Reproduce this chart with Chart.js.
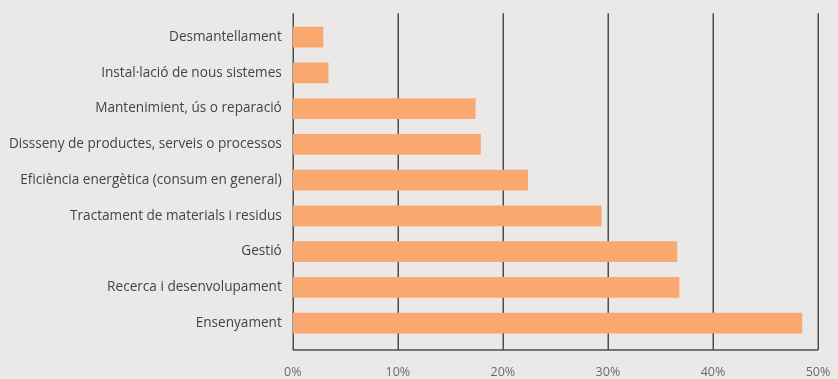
<!DOCTYPE html>
<html>
<head>
<meta charset="utf-8">
<script src="https://cdn.jsdelivr.net/npm/chart.js@4/dist/chart.umd.min.js"></script>
<style>
  html, body { margin: 0; padding: 0; background: #ebe9e7; }
  #wrap { width: 838px; height: 379px; position: relative; }
</style>
</head>
<body>
<div id="wrap"><canvas id="chart"></canvas></div>
<script>
const categories = [
  'Desmantellament',
  'Instal·lació de nous sistemes',
  'Mantenimient, ús o reparació',
  'Dissseny de productes, serveis o processos',
  'Eficiència energètica (consum en general)',
  'Tractament de materials i residus',
  'Gestió',
  'Recerca i desenvolupament',
  'Ensenyament'
];
const values = [2.9, 3.4, 17.4, 17.9, 22.4, 29.4, 36.6, 36.8, 48.5];
const tickValues = [0, 10, 20, 30, 40, 50];

// grid lines drawn a bit beyond the category band, like the original
const gridPlugin = {
  id: 'gridLines',
  beforeDatasetsDraw(chart) {
    const { ctx, chartArea, scales } = chart;
    const top = chartArea.top - 6;
    const bottom = chartArea.bottom + 9;
    ctx.save();
    ctx.strokeStyle = '#4d4d4d';
    ctx.lineWidth = 1.5;
    tickValues.forEach(v => {
      const x = Math.round(scales.x.getPixelForValue(v)) + 0.25;
      ctx.beginPath();
      ctx.moveTo(x, top);
      ctx.lineTo(x, bottom);
      ctx.stroke();
    });
    ctx.beginPath();
    ctx.moveTo(scales.x.getPixelForValue(0), bottom);
    ctx.lineTo(scales.x.getPixelForValue(50), bottom);
    ctx.stroke();
    ctx.restore();
  }
};

new Chart(document.getElementById('chart'), {
  type: 'bar',
  data: {
    labels: categories,
    datasets: [{
      data: values,
      backgroundColor: '#f9a870',
      categoryPercentage: 1,
      barPercentage: 0.58
    }]
  },
  options: {
    indexAxis: 'y',
    responsive: true,
    maintainAspectRatio: false,
    animation: false,
    layout: { padding: { top: 14, right: 20, bottom: -25, left: -2 } },
    plugins: { legend: { display: false }, tooltip: { enabled: false } },
    scales: {
      x: {
        min: 0,
        max: 50,
        afterBuildTicks(scale) { scale.ticks = tickValues.map(v => ({ value: v })); },
        afterFit(scale) { scale.paddingRight = 20; },
        grid: { display: false, drawTicks: false },
        border: { display: false },
        ticks: {
          padding: 24,
          color: '#6a6a6a',
          font: { family: 'Open Sans', size: 12.5 },
          callback: v => v + '%'
        }
      },
      y: {
        grid: { display: false, drawTicks: false },
        border: { display: false },
        ticks: {
          padding: 11,
          color: '#444',
          font: { family: 'Open Sans', size: 13.6 }
        }
      }
    }
  },
  plugins: [gridPlugin]
});
</script>
</body>
</html>
